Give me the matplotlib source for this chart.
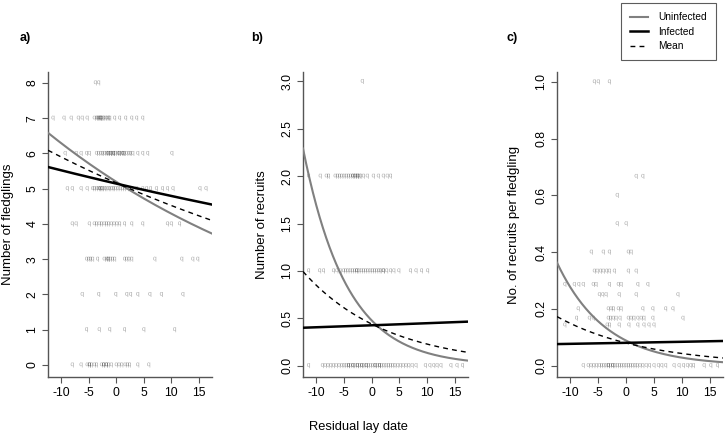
import numpy as np
import matplotlib
matplotlib.use("Agg")
import matplotlib.pyplot as plt
from matplotlib.lines import Line2D

plt.rcParams['font.family'] = ['Liberation Sans', 'DejaVu Sans']

# ---------------- data ----------------
# Panel a: number of fledglings
a_levels = [8, 7, 6, 5, 4, 3, 2, 1, 0]
a_xs = [
    [-3.8, -3.2],
    [-11.5, -9.5, -8.2, -6.9, -6.2, -5.3, -4.0, -3.6, -3.4, -3.2, -3.0, -2.9, -2.8, -2.6, -2.3, -2.0, -1.7, -1.4, -1.2, -0.3, 0.6, 1.7, 2.8, 3.7, 4.8],
    [-9.3, -7.3, -6.4, -5.4, -4.9, -3.6, -3.2, -2.8, -2.5, -2.1, -1.8, -1.5, -1.5, -1.1, -1.1, -0.8, -0.5, -0.5, -0.2, 0.2, 0.5, 0.5, 0.9, 1.2, 1.2, 1.5, 1.9, 2.3, 2.6, 3.0, 3.9, 4.8, 5.7, 10.1],
    [-8.9, -8.0, -6.4, -5.3, -4.3, -4.0, -3.6, -3.3, -3.0, -3.0, -2.6, -2.6, -2.2, -1.9, -1.5, -1.2, -0.8, -0.5, -0.1, 0.3, 0.7, 1.1, 1.5, 2.0, 2.8, 3.7, 4.8, 5.5, 6.2, 7.3, 8.4, 9.3, 10.3, 15.2, 16.3],
    [-8.0, -7.3, -4.9, -4.0, -3.6, -3.1, -2.7, -2.2, -1.8, -1.4, -0.9, -0.4, 0.1, 0.6, 1.5, 2.8, 4.8, 9.3, 10.0, 11.5],
    [-5.4, -5.0, -4.7, -4.3, -3.4, -2.2, -1.8, -1.5, -1.5, -1.1, -0.7, -0.3, 1.5, 1.9, 2.3, 2.8, 7.0, 11.9, 13.9, 14.8],
    [-6.2, -3.2, -0.1, 1.9, 2.6, 3.9, 6.1, 8.2, 12.1],
    [-5.4, -3.1, -1.2, 1.5, 5.0, 10.6],
    [-8.0, -6.4, -5.3, -4.9, -4.9, -4.5, -4.0, -3.6, -2.7, -2.3, -2.3, -1.8, -1.8, -1.4, -0.9, 0.0, 0.5, 1.0, 1.6, 2.0, 2.4, 3.9, 5.9],
]

# Panel b: number of recruits
b_levels = [3, 2, 1, 0]
b_xs = [
    [-1.7],
    [-11.4, -9.3, -8.2, -7.8, -6.6, -6.2, -5.8, -5.4, -5.0, -4.6, -4.2, -3.8, -3.4, -3.4, -3.0, -3.0, -2.6, -2.6, -2.3, -2.0, -1.5, -0.8, 0.3, 1.2, 2.1, 2.8, 3.4],
    [-11.4, -9.4, -8.7, -6.9, -6.3, -5.7, -5.1, -4.7, -4.3, -3.9, -3.5, -3.1, -2.7, -2.7, -2.3, -1.9, -1.5, -1.1, -0.7, -0.3, 0.1, 0.5, 0.9, 1.3, 1.6, 2.1, 2.1, 2.7, 3.4, 4.0, 4.9, 7.0, 8.0, 9.0, 10.1],
    [-11.4, -8.9, -8.4, -7.9, -7.4, -6.9, -6.4, -5.9, -5.4, -5.0, -4.6, -4.2, -4.2, -3.8, -3.4, -3.4, -3.0, -2.6, -2.6, -2.2, -1.8, -1.8, -1.4, -1.0, -1.0, -0.6, -0.2, 0.2, 0.6, 0.6, 1.0, 1.4, 1.4, 1.8, 2.2, 2.6, 3.0, 3.4, 3.8, 4.2, 4.7, 5.2, 5.7, 6.2, 6.7, 7.3, 8.0, 9.7, 10.5, 11.2, 11.8, 12.5, 14.3, 15.4, 16.4],
]

# Panel c: recruits per fledgling
c_levels = [1.0, 0.667, 0.6, 0.5, 0.4, 0.333, 0.286, 0.25, 0.2, 0.167, 0.143, 0.0]
c_xs = [
    [-5.7, -5.0, -3.0],
    [1.8, 3.0],
    [-1.6],
    [-1.6, 0.0],
    [-6.25, -4.1, -3.0, 0.4, 0.9],
    [-5.7, -5.2, -4.6, -4.1, -3.5, -3.0, -2.1, 0.4, 1.8],
    [-11.0, -9.3, -8.5, -7.7, -5.9, -5.4, -3.0, -1.4, -0.9, 2.1, 3.9],
    [-4.8, -4.2, -3.6, -1.25, 1.8, 9.3],
    [-8.6, -3.2, -2.7, -2.3, -1.4, -0.9, 3.0, 4.8, 7.1, 8.4],
    [-8.9, -6.6, -5.9, -3.2, -2.8, -2.3, -1.8, -1.1, 0.4, 0.9, 1.4, 2.1, 2.7, 3.2, 4.8, 10.2],
    [-11.0, -3.4, -3.0, -1.25, 0.5, 2.1, 3.2, 4.1, 5.0],
    [-7.7, -6.8, -6.3, -5.8, -5.3, -4.8, -4.4, -4.0, -3.6, -3.2, -3.2, -2.8, -2.4, -2.4, -2.0, -1.6, -1.2, -0.8, -0.4, 0.0, 0.4, 0.8, 1.2, 1.6, 2.0, 2.5, 3.0, 3.6, 4.2, 5.0, 5.8, 6.4, 7.1, 8.6, 9.5, 10.3, 11.0, 11.6, 12.1, 14.0, 15.2, 16.4],
]

# fitted curves (log link): [Uninfected, Infected, Mean]
a_fit_int = [1.648, 1.638, 1.642]
a_fit_slope = [-0.0191, -0.00706, -0.01328]
b_fit_int = [-0.739, -0.854, -0.8225]
b_fit_slope = [-0.1265, 0.005, -0.0658]
c_fit_int = [-2.427, -2.521, -2.528]
c_fit_slope = [-0.114, 0.0045, -0.0623]

series_names = ["Uninfected", "Infected", "Mean"]
panel_letters = ["a)", "b)", "c)"]
y_labels = ["Number of fledglings", "Number of recruits", "No. of recruits per fledgling"]
x_label = "Residual lay date"
x_ticks = [-10, -5, 0, 5, 10, 15]
a_yticks = [0, 1, 2, 3, 4, 5, 6, 7, 8]
b_yticks = [0.0, 0.5, 1.0, 1.5, 2.0, 2.5, 3.0]
c_yticks = [0.0, 0.2, 0.4, 0.6, 0.8, 1.0]

# ---------------- figure ----------------
W, H = 726, 436
fig = plt.figure(figsize=(W / 100, H / 100), dpi=100)

def px_axes(l, r, t, b):
    return fig.add_axes([l / W, 1 - b / H, (r - l) / W, (b - t) / H])

axes = [px_axes(48, 212, 72, 377), px_axes(303, 468, 72, 377), px_axes(557, 723, 72, 377)]
levels_all = [a_levels, b_levels, c_levels]
xs_all = [a_xs, b_xs, c_xs]
ints_all = [a_fit_int, b_fit_int, c_fit_int]
slopes_all = [a_fit_slope, b_fit_slope, c_fit_slope]
yticks_all = [a_yticks, b_yticks, c_yticks]
ylims = [(-0.34, 8.31), (-0.12, 3.1), (-0.04, 1.035)]
ytick_fmt = [lambda v: f"{v:d}", lambda v: f"{v:.1f}", lambda v: f"{v:.1f}"]
ylab_x = [-0.207, -0.212, -0.223]
letter_x = [25, 257, 512]

curve_styles = [dict(color="#808080", lw=1.5, ls="-"),
                dict(color="black", lw=1.8, ls="-"),
                dict(color="black", lw=1.0, ls=(0, (3.5, 3)))]

xlim = (-12.4, 17.4)
grid = np.linspace(xlim[0], xlim[1], 300)

for i, ax in enumerate(axes):
    for lvl, xs in zip(levels_all[i], xs_all[i]):
        ax.scatter(xs, [lvl] * len(xs), marker=r"$\mathregular{q}$", s=13,
                   facecolors="black", edgecolors="none", alpha=0.33, zorder=2)
    for k in range(3):
        ax.plot(grid, np.exp(ints_all[i][k] + slopes_all[i][k] * grid),
                zorder=3, **curve_styles[k])
    ax.set_xlim(*xlim)
    ax.set_ylim(*ylims[i])
    ax.set_xticks(x_ticks)
    ax.set_xticklabels([f"{t}" for t in x_ticks], fontsize=8.8)
    ax.set_yticks(yticks_all[i])
    ax.set_yticklabels([ytick_fmt[i](v) for v in yticks_all[i]], fontsize=8.8,
                       rotation=90, va="center")
    for s in ["top", "right"]:
        ax.spines[s].set_visible(False)
    for s in ["left", "bottom"]:
        ax.spines[s].set_color("#555555")
        ax.spines[s].set_linewidth(1.0)
    ax.tick_params(direction="out", length=4, width=0.8, color="#555555", pad=3)
    ax.set_ylabel(y_labels[i], fontsize=9.5)
    ax.yaxis.set_label_coords(ylab_x[i], 0.5)
    fig.text(letter_x[i] / W, 1 - 38 / H, panel_letters[i], ha="center", va="center",
             fontsize=9, fontweight="bold")

fig.text(358 / W, 1 - 427 / H, x_label, ha="center", va="center", fontsize=9.3)

handles = [Line2D([], [], **curve_styles[k]) for k in range(3)]
leg = fig.legend(handles, series_names, loc="upper right",
                 bbox_to_anchor=(716 / W, 1 - 3 / H), fontsize=7.3, frameon=True,
                 fancybox=False, edgecolor="#333333", handlelength=1.8,
                 handletextpad=1.0, labelspacing=0.45, borderpad=0.9,
                 borderaxespad=0)
leg.get_frame().set_linewidth(0.8)

fig.savefig("out.png", dpi=100)
